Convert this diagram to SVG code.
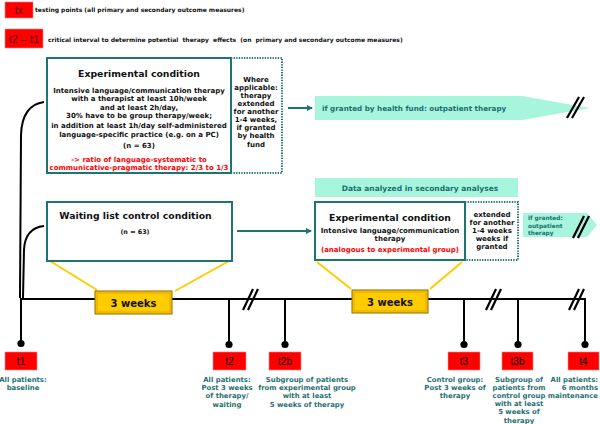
<svg xmlns="http://www.w3.org/2000/svg" width="600" height="424" viewBox="0 0 600 424">
<style>
text{font-family:"DejaVu Sans","Liberation Sans",sans-serif;font-weight:bold}
.hd{font-size:6px;fill:#111;white-space:pre}
.tb{font-size:7px;fill:#111;text-anchor:middle}
.title{font-size:9.3px;fill:#111;text-anchor:middle}
.red{fill:#ff0000}
.teal{fill:#1f6f6f}
.lab{font-size:6.9px;fill:#1f6f6f;text-anchor:middle}
.lab.end{text-anchor:end}
.box{fill:#fff;stroke:#1e7470;stroke-width:2}
.dot{fill:none;stroke:#1e7470;stroke-width:2;stroke-dasharray:1.3 1.3}
.mint{fill:#a6f5dc}
.yel{stroke:#ffcc00;stroke-width:2;fill:none}
.tl{stroke:#000;stroke-width:2;fill:none}
.brk{stroke:#000;stroke-width:2.2}
.rb{fill:#ff0000;stroke:#ff8080;stroke-width:0.6}
.rt{font-family:"Liberation Sans",Arial,sans-serif;font-weight:normal;font-size:10px;text-anchor:middle;fill:#000}
.wk{fill:#ffcc00;stroke:#8a6a00;stroke-width:1}
.wt{font-size:10px;fill:#111;text-anchor:middle}
</style>
<defs>
<marker id="ah" markerWidth="6" markerHeight="6" refX="5" refY="3" orient="auto" markerUnits="userSpaceOnUse">
<path d="M0,0 L6,3 L0,6 z" fill="#1e7470"/>
</marker>
</defs>

<g id="legend">
<rect class="rb" x="5" y="2" width="28" height="16"/>
<text class="rt" x="19" y="14" style="fill:#5a0000">tx</text>
<text class="hd" x="35" y="12">testing points (all primary and secondary outcome measures)</text>
<rect class="rb" x="5" y="29" width="38" height="19"/>
<text class="rt" x="24" y="42.5" style="fill:#5a0000;font-size:11px">t2 – t1</text>
<text class="hd" x="48" y="42">critical interval to determine potential  therapy  effects  (on  primary and secondary outcome measures)</text>
</g>

<g id="connectors">
<path class="tl" d="M20,298 L21,135 Q22,105 44,102" stroke-width="1.3"/>
<path class="tl" d="M23,298 L24,250 Q25,228 44,226" stroke-width="1.3"/>
<line x1="288" y1="108" x2="312" y2="108" stroke="#1e7470" stroke-width="2" marker-end="url(#ah)"/>
<line x1="237" y1="231" x2="311" y2="231" stroke="#1e7470" stroke-width="2" marker-end="url(#ah)"/>
<line class="yel" x1="50" y1="261" x2="97" y2="290"/>
<line class="yel" x1="229" y1="261" x2="175" y2="291"/>
<line class="yel" x1="317" y1="262" x2="351" y2="289"/>
<line class="yel" x1="462" y1="262" x2="430" y2="289"/>
</g>

<g id="exp1">
<rect class="box" x="47" y="58" width="184" height="115"/>
<path class="dot" d="M231,58 H282 V173 H231"/>
<text class="title" x="139" y="77">Experimental condition</text>
<text class="tb" x="139" y="93">Intensive language/communication therapy</text>
<text class="tb" x="139" y="101">with a therapist at least 10h/week</text>
<text class="tb" x="139" y="109.5">and at least 2h/day,</text>
<text class="tb" x="139" y="118">30% have to be group therapy/week;</text>
<text class="tb" x="139" y="128">in addition at least 1h/day self-administered</text>
<text class="tb" x="139" y="136.5">language-specific practice (e.g. on a PC)</text>
<text class="tb" x="139" y="148">(n = 63)</text>
<text class="tb red" x="139" y="162">-&gt; ratio of language-systematic to</text>
<text class="tb red" x="139" y="170">communicative-pragmatic therapy: 2/3 to 1/3</text>
<text class="tb" x="256" y="81.5">Where</text>
<text class="tb" x="256" y="89.5">applicable:</text>
<text class="tb" x="256" y="97.5">therapy</text>
<text class="tb" x="256" y="105.5">extended</text>
<text class="tb" x="256" y="113.5">for another</text>
<text class="tb" x="256" y="121.5">1-4 weeks,</text>
<text class="tb" x="256" y="129.5">if granted</text>
<text class="tb" x="256" y="138">by health</text>
<text class="tb" x="256" y="146.5">fund</text>
</g>

<g id="outpatient1">
<path class="mint" d="M315,96 H522 L590,108 L522,120 H315 Z"/>
<text class="teal" x="322" y="110.5" style="font-size:7.2px">if granted by health fund: outpatient therapy</text>
<line class="brk" x1="567" y1="118" x2="579" y2="97" stroke-width="2.6"/>
<line class="brk" x1="572" y1="118" x2="584" y2="97" stroke-width="2.6"/>
</g>

<g id="secondary">
<rect class="mint" x="315" y="178" width="203" height="19"/>
<text class="teal" x="420" y="190.5" text-anchor="middle" style="font-size:7.5px">Data analyzed in secondary analyses</text>
</g>

<g id="waiting">
<rect class="box" x="47" y="202" width="185" height="59"/>
<text class="title" x="135.5" y="218.5">Waiting list control condition</text>
<text class="tb" x="135" y="233.5" style="font-size:6.4px">(n = 63)</text>
</g>

<g id="exp2">
<rect class="box" x="315" y="202" width="150" height="58"/>
<path class="dot" d="M465,202 H518 V260 H465"/>
<text class="title" x="390" y="220.5">Experimental condition</text>
<text class="tb" x="390" y="232.5">Intensive language/communication</text>
<text class="tb" x="390" y="240.5">therapy</text>
<text class="tb red" x="390" y="251.5">(analogous to experimental group)</text>
<text class="tb" x="492" y="216.5">extended</text>
<text class="tb" x="492" y="224.5">for another</text>
<text class="tb" x="492" y="232.5">1-4 weeks</text>
<text class="tb" x="492" y="240.5">weeks if</text>
<text class="tb" x="492" y="249">granted</text>
</g>

<g id="outpatient2">
<path class="mint" d="M523,213 H587 L597,225 L587,237 H523 Z"/>
<text class="teal" x="528" y="220" style="font-size:5.8px">if granted:</text>
<text class="teal" x="528" y="227.5" style="font-size:5.8px">outpatient</text>
<text class="teal" x="528" y="235" style="font-size:5.8px">therapy</text>
<line class="brk" x1="573" y1="238" x2="584" y2="216" stroke-width="2.4"/>
<line class="brk" x1="578" y1="238" x2="589" y2="216" stroke-width="2.4"/>
</g>

<g id="timeline">
<line class="tl" x1="20" y1="299" x2="586" y2="299"/>
<line class="brk" x1="243" y1="310" x2="253" y2="289"/>
<line class="brk" x1="248" y1="310" x2="258" y2="289"/>
<line class="brk" x1="486" y1="310" x2="496" y2="289"/>
<line class="brk" x1="491" y1="310" x2="501" y2="289"/>
<line class="brk" x1="569" y1="310" x2="579" y2="289"/>
<line class="brk" x1="574" y1="310" x2="584" y2="289"/>
</g>

<g id="weeks1">
<rect class="wk" x="95" y="291" width="77" height="23"/>
<rect x="97" y="293" width="73" height="19" fill="none" stroke="#e0a800" stroke-width="1"/>
<text class="wt" x="133.5" y="306.5">3 weeks</text>
</g>
<g id="weeks2">
<rect class="wk" x="352" y="290" width="76" height="23"/>
<rect x="354" y="292" width="72" height="19" fill="none" stroke="#e0a800" stroke-width="1"/>
<text class="wt" x="390" y="305.5">3 weeks</text>
</g>

<g id="t1">
<line class="tl" x1="21" y1="299" x2="21" y2="343"/>
<circle cx="21" cy="343.5" r="3.6"/>
<rect class="rb" x="5" y="352" width="32" height="18"/>
<text class="rt" x="21" y="365">t1</text>
<text class="lab" x="23" y="381.5">All patients:</text>
<text class="lab" x="23" y="389.5">baseline</text>
</g>
<g id="t2">
<line class="tl" x1="229" y1="299" x2="229" y2="344"/>
<circle cx="229" cy="344.5" r="3.6"/>
<rect class="rb" x="213" y="352" width="33" height="18"/>
<text class="rt" x="229.5" y="365">t2</text>
<text class="lab" x="227" y="381.5">All patients:</text>
<text class="lab" x="227" y="389.5">Post 3 weeks</text>
<text class="lab" x="227" y="398">of therapy/</text>
<text class="lab" x="227" y="406.5">waiting</text>
</g>
<g id="t2b">
<line class="tl" x1="285" y1="299" x2="285" y2="344"/>
<circle cx="285" cy="344.5" r="3.6"/>
<rect class="rb" x="269" y="352" width="32" height="18"/>
<text class="rt" x="285" y="365">t2b</text>
<text class="lab" x="307" y="381.5">Subgroup of patients</text>
<text class="lab" x="307" y="389.5">from experimental group</text>
<text class="lab" x="307" y="398">with at least</text>
<text class="lab" x="307" y="406.5">5 weeks of therapy</text>
</g>
<g id="t3">
<line class="tl" x1="464" y1="299" x2="464" y2="344"/>
<circle cx="464" cy="344.5" r="3.6"/>
<rect class="rb" x="448" y="352" width="32" height="18"/>
<text class="rt" x="464" y="365">t3</text>
<text class="lab" x="455" y="381.5">Control group:</text>
<text class="lab" x="455" y="389.5">Post 3 weeks of</text>
<text class="lab" x="455" y="398">therapy</text>
</g>
<g id="t3b">
<line class="tl" x1="518" y1="299" x2="518" y2="344"/>
<circle cx="518" cy="344.5" r="3.6"/>
<rect class="rb" x="502" y="352" width="31" height="18"/>
<text class="rt" x="517.5" y="365">t3b</text>
<text class="lab" x="519" y="381.5">Subgroup of</text>
<text class="lab" x="519" y="389.5">patients from</text>
<text class="lab" x="519" y="398">control group</text>
<text class="lab" x="519" y="406">with at least</text>
<text class="lab" x="519" y="414">5 weeks of</text>
<text class="lab" x="519" y="422.5">therapy</text>
</g>
<g id="t4">
<line class="tl" x1="585" y1="299" x2="585" y2="344"/>
<circle cx="585" cy="344.5" r="3.6"/>
<rect class="rb" x="568" y="352" width="31" height="18"/>
<text class="rt" x="583.5" y="365">t4</text>
<text class="lab end" x="598" y="381.5">All patients:</text>
<text class="lab end" x="598" y="389.5">6 months</text>
<text class="lab end" x="598" y="398">maintenance</text>
</g>
</svg>
